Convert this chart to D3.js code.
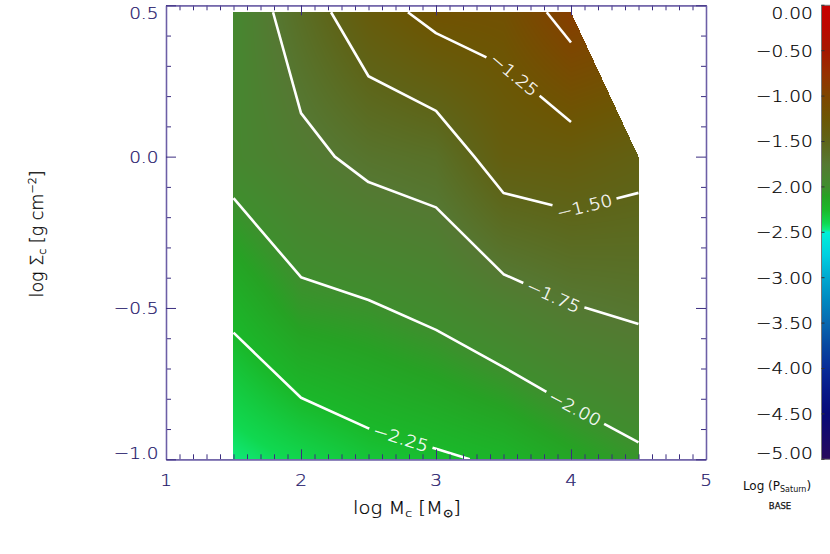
<!DOCTYPE html>
<html><head><meta charset="utf-8">
<script src="https://cdn.jsdelivr.net/npm/d3@7"></script>
<style>
html,body{margin:0;padding:0;background:#fff;}
svg{display:block;}
</style></head><body>
<svg id="chart" width="830" height="554"></svg>
<script>
// ---------------- data ----------------
const massCols  = [1.5, 2.0, 2.5, 3.0, 3.5, 4.0, 4.5];          // log Mc
const sigmaRows = [-1.0, -0.5, 0.0, 0.477];                        // log Sigma_c
const logP_sigmaM100 = [-2.460, -2.387, -2.310, -2.272, -2.228, -2.130, -2.036];
const logP_sigmaM050 = [-2.209, -2.050, -2.017, -1.954, -1.854, -1.760, -1.716];
const logP_sigma000  = [-1.921, -1.804, -1.696, -1.647, -1.388, -1.359, -1.432];
const logP_sigma048  = [-1.927, -1.625, -1.344, -1.183, -1.169, -0.905, null];

const contourLevels = [-2.25, -2.00, -1.75, -1.50, -1.25, -1.00];
const labelLevels   = [-2.25, -2.00, -1.75, -1.50, -1.25];
const labelTexts    = ["\u22122.25", "\u22122.00", "\u22121.75", "\u22121.50", "\u22121.25"];
const labelAtMass   = [2.74, 4.03, 3.87, 4.10, 3.58];

const xTickValues = [1, 2, 3, 4, 5];
const xTickLabels = ["1", "2", "3", "4", "5"];
const yTickValues = [-1.0, -0.5, 0.0, 0.5];
const yTickLabels = ["\u22121.0", "\u22120.5", "0.0", "0.5"];

const cbTickValues = [0, -0.5, -1, -1.5, -2, -2.5, -3, -3.5, -4, -4.5, -5];
const cbTickLabels = ["0.00", "\u22120.50", "\u22121.00", "\u22121.50", "\u22122.00", "\u22122.50",
                      "\u22123.00", "\u22123.50", "\u22124.00", "\u22124.50", "\u22125.00"];
const cbStopValues = [0, -0.25, -0.5, -0.75, -1.0, -1.25, -1.5, -1.75, -2.0, -2.1, -2.25, -2.4, -2.47, -2.5,
                      -2.75, -3.0, -3.25, -3.5, -3.75, -4.0, -4.25, -4.5, -4.75, -5.0];
const cbStopColors = ["#c80000", "#bb0800", "#a51800", "#963000", "#7e4500", "#6c5604", "#5e6418", "#557832",
                      "#3f8e2e", "#26a224", "#1ab82a", "#10d850", "#10ec80", "#00f0d8",
                      "#00d0e0", "#00a8d0", "#0088c0", "#0868b0", "#0848a0", "#082c98", "#081888", "#080a78",
                      "#180a6a", "#280a5c"];

// ---------------- setup ----------------
const grid = [logP_sigmaM100, logP_sigmaM050, logP_sigma000, logP_sigma048];
const svg = d3.select("#chart");
const x = d3.scaleLinear().domain([1, 5]).range([166, 706]);
const y = d3.scaleLinear().domain([-1, 0.5]).range([459.3, 5.3]);
const cy = d3.scaleLinear().domain([-5, 0]).range([459.3, 5.3]);
const color = d3.scaleLinear().domain(cbStopValues).range(cbStopColors)
  .interpolate(d3.interpolateRgb).clamp(true);

const AXIS_COL = "#6c5fa6", TICK_COL = "#3b2d80", LABEL_COL = "#24166a";
const FONT = "'DejaVu Sans', 'Liberation Sans', sans-serif";
const FW = 200;

function field(mx, sy) {
  if (mx < massCols[0] || mx > massCols[massCols.length - 1]) return null;
  if (sy < sigmaRows[0] || sy > sigmaRows[sigmaRows.length - 1]) return null;
  const i = Math.min(massCols.length - 2, Math.max(0, d3.bisectRight(massCols, mx) - 1));
  const j = Math.min(sigmaRows.length - 2, Math.max(0, d3.bisectRight(sigmaRows, sy) - 1));
  const x0 = massCols[i], x1 = massCols[i + 1], y0 = sigmaRows[j], y1 = sigmaRows[j + 1];
  const u = (mx - x0) / (x1 - x0), w = (sy - y0) / (y1 - y0);
  const a = grid[j][i], b = grid[j][i + 1], c = grid[j + 1][i], d = grid[j + 1][i + 1];
  if (a != null && b != null && c != null && d != null)
    return a * (1 - u) * (1 - w) + b * u * (1 - w) + c * (1 - u) * w + d * u * w;
  if (d == null && a != null && b != null && c != null) {
    if (u + w <= 1.0000001) return a + (b - a) * u + (c - a) * w;
    return null;
  }
  return null;
}

// ---------------- heat map (pixel image through scales) ----------------
{
  const px0 = Math.floor(x(massCols[0])), px1 = Math.ceil(x(massCols[massCols.length - 1]));
  const py0 = Math.floor(y(sigmaRows[sigmaRows.length - 1])), py1 = Math.ceil(y(sigmaRows[0]));
  const w = px1 - px0, h = py1 - py0;
  const cv = document.createElement("canvas");
  cv.width = w; cv.height = h;
  const ctx = cv.getContext("2d");
  const img = ctx.createImageData(w, h);
  for (let r = 0; r < h; r++) {
    const sy = y.invert(py0 + r + 0.5);
    for (let q = 0; q < w; q++) {
      const mx = x.invert(px0 + q + 0.5);
      const v = field(mx, sy);
      const k = (r * w + q) * 4;
      if (v == null) { img.data[k + 3] = 0; continue; }
      const c = d3.rgb(color(v));
      img.data[k] = c.r; img.data[k + 1] = c.g; img.data[k + 2] = c.b; img.data[k + 3] = 255;
    }
  }
  ctx.putImageData(img, 0, 0);
  svg.append("image").attr("x", px0).attr("y", py0).attr("width", w).attr("height", h)
    .attr("preserveAspectRatio", "none").attr("href", cv.toDataURL());
}

// ---------------- contours (marching squares on the grid) ----------------
function contourSegments(L) {
  const segs = [];
  for (let j = 0; j < sigmaRows.length - 1; j++) {
    for (let i = 0; i < massCols.length - 1; i++) {
      const a = grid[j][i], b = grid[j][i + 1], c = grid[j + 1][i], d = grid[j + 1][i + 1];
      if (a == null || b == null || c == null || d == null) continue;
      const x0 = massCols[i], x1 = massCols[i + 1], y0 = sigmaRows[j], y1 = sigmaRows[j + 1];
      const edges = [
        [x0, y0, a, x1, y0, b],
        [x1, y0, b, x1, y1, d],
        [x0, y1, c, x1, y1, d],
        [x0, y0, a, x0, y1, c]
      ];
      const pts = [];
      for (const [xa, ya, va, xb, yb, vb] of edges) {
        if ((va - L) * (vb - L) < 0) {
          const t = (L - va) / (vb - va);
          pts.push([xa + t * (xb - xa), ya + t * (yb - ya)]);
        }
      }
      if (pts.length === 2) segs.push(pts);
      else if (pts.length === 4) { segs.push([pts[0], pts[1]]); segs.push([pts[2], pts[3]]); }
    }
  }
  return segs;
}
function chain(segs) {
  const key = p => p[0].toFixed(6) + "," + p[1].toFixed(6);
  const used = segs.map(() => false);
  const lines = [];
  for (let s = 0; s < segs.length; s++) {
    if (used[s]) continue;
    used[s] = true;
    const line = [segs[s][0], segs[s][1]];
    let grown = true;
    while (grown) {
      grown = false;
      for (let k = 0; k < segs.length; k++) {
        if (used[k]) continue;
        const [p, q] = segs[k];
        const f = key(line[0]), l = key(line[line.length - 1]);
        if (key(p) === l) { line.push(q); }
        else if (key(q) === l) { line.push(p); }
        else if (key(q) === f) { line.unshift(p); }
        else if (key(p) === f) { line.unshift(q); }
        else continue;
        used[k] = true; grown = true;
      }
    }
    lines.push(line);
  }
  return lines;
}
function cumLen(pts) {
  const c = [0];
  for (let i = 1; i < pts.length; i++)
    c.push(c[i - 1] + Math.hypot(pts[i][0] - pts[i - 1][0], pts[i][1] - pts[i - 1][1]));
  return c;
}
function pointAt(pts, cum, s) {
  for (let i = 1; i < pts.length; i++) {
    if (s <= cum[i] || i === pts.length - 1) {
      const t = (s - cum[i - 1]) / Math.max(1e-9, cum[i] - cum[i - 1]);
      return [pts[i - 1][0] + t * (pts[i][0] - pts[i - 1][0]), pts[i - 1][1] + t * (pts[i][1] - pts[i - 1][1])];
    }
  }
  return pts[pts.length - 1];
}
function subLine(pts, cum, sa, sb) {
  if (sb <= sa) return [];
  const out = [pointAt(pts, cum, sa)];
  for (let i = 0; i < pts.length; i++) if (cum[i] > sa && cum[i] < sb) out.push(pts[i]);
  out.push(pointAt(pts, cum, sb));
  return out;
}

const lineGen = d3.line();
const gC = svg.append("g").attr("class", "contours");
const GAP = 33;
contourLevels.forEach(L => {
  const lines = chain(contourSegments(L)).map(l => l.map(p => [x(p[0]), y(p[1])]));
  const li = labelLevels.indexOf(L);
  lines.forEach(pts => {
    let parts = [pts], label = null;
    if (li >= 0) {
      const tx = x(labelAtMass[li]);
      for (let k = 0; k < pts.length - 1; k++) {
        const [ax, ay] = pts[k], [bx, by] = pts[k + 1];
        if (tx >= Math.min(ax, bx) && tx <= Math.max(ax, bx) && Math.abs(bx - ax) > 1e-9) {
          const cum = cumLen(pts);
          const t = (tx - ax) / (bx - ax);
          const P = [ax + t * (bx - ax), ay + t * (by - ay)];
          const s0 = cum[k] + Math.hypot(P[0] - ax, P[1] - ay);
          parts = [subLine(pts, cum, 0, s0 - GAP), subLine(pts, cum, s0 + GAP, cum[cum.length - 1])];
          let ang = Math.atan2(by - ay, bx - ax) * 180 / Math.PI;
          if (ang > 90) ang -= 180; if (ang < -90) ang += 180;
          label = { P, ang, text: labelTexts[li] };
          break;
        }
      }
    }
    parts.filter(p => p.length > 1).forEach(p => {
      gC.append("path").attr("d", lineGen(p)).attr("fill", "none")
        .attr("stroke", "#ffffff").attr("stroke-width", 2.6)
        .attr("stroke-linejoin", "round").attr("stroke-linecap", "butt");
    });
    if (label) {
      gC.append("text")
        .attr("transform", `translate(${label.P[0]},${label.P[1]}) rotate(${label.ang}) scale(1.12,1)`)
        .attr("x", 0).attr("y", 0.36 * 16.5)
        .attr("text-anchor", "middle").attr("font-family", FONT).attr("font-weight", FW)
        .attr("font-size", 16.5).attr("fill", "#ffffff")
        .attr("stroke", "#ffffff").attr("stroke-width", 0.3).text(label.text);
    }
  });
});

// ---------------- axes (inward ticks on all four sides) ----------------
const xMinor = d3.range(10, 51).map(d => d / 10).filter(d => !xTickValues.includes(d));
const yMinor = d3.range(-10, 6).map(d => d / 10).filter(d => !yTickValues.some(v => Math.abs(v - d) < 1e-9));
function styleAxis(g) {
  g.selectAll("path.domain").attr("stroke", AXIS_COL).attr("stroke-width", 1.3);
  g.selectAll(".tick line").attr("stroke", TICK_COL).attr("stroke-width", 1);
  g.selectAll(".tick text").remove();
}
const axes = [
  [d3.axisBottom(x), `translate(0,${y(-1)})`, xMinor, xTickValues],
  [d3.axisTop(x), `translate(0,${y(0.5)})`, xMinor, xTickValues],
  [d3.axisLeft(y), `translate(${x(1)},0)`, yMinor, yTickValues],
  [d3.axisRight(y), `translate(${x(5)},0)`, yMinor, yTickValues]
];
axes.forEach(([ax, tr, minor, major]) => {
  svg.append("g").attr("transform", tr)
    .call(ax.tickValues(minor).tickSize(-5).tickSizeOuter(0).tickFormat("")).call(styleAxis);
  svg.append("g").attr("transform", tr)
    .call(ax.tickValues(major).tickSize(-10).tickSizeOuter(0).tickFormat("")).call(styleAxis);
});

function sText(parent, px, py, anchor, size, sx, fill, str, weight) {
  return parent.append("text")
    .attr("transform", `translate(${px},${py}) scale(${sx},1)`)
    .attr("x", 0).attr("y", 0).attr("text-anchor", anchor)
    .attr("font-family", FONT).attr("font-weight", weight || FW)
    .attr("font-size", size).attr("fill", fill)
    .attr("stroke", fill).attr("stroke-width", 0.25).text(str);
}
const gL = svg.append("g").attr("class", "labels");
const TS = 16.5, TSX = 1.12;
xTickValues.forEach((v, i) => sText(gL, x(v), 480 + 0.36 * TS, "middle", TS, TSX, LABEL_COL, xTickLabels[i]));
yTickValues.forEach((v, i) => {
  const c = Math.max(13, Math.min(453, y(v)));
  sText(gL, 158.5, c + 0.36 * TS, "end", TS, TSX, LABEL_COL, yTickLabels[i]);
});

// axis titles
{
  const t = gL.append("text")
    .attr("transform", `translate(407,${508 + 0.36 * 17.5}) scale(1.12,1)`)
    .attr("text-anchor", "middle").attr("font-family", FONT).attr("font-weight", FW)
    .attr("font-size", 17.5).attr("fill", "#000").attr("stroke", "#000").attr("stroke-width", 0.25);
  t.append("tspan").text("log M");
  t.append("tspan").attr("font-size", 11).attr("dy", 3).text("c");
  t.append("tspan").attr("dy", -3).text(" [M");
  t.append("tspan").attr("font-size", 11).attr("dy", 3).text("\u2299");
  t.append("tspan").attr("dy", -3).text("]");
}
{
  const t = gL.append("text")
    .attr("transform", `translate(${37 + 0.36 * 17.5},234) rotate(-90) scale(1.0,1)`)
    .attr("text-anchor", "middle").attr("font-family", FONT).attr("font-weight", FW)
    .attr("font-size", 17.5).attr("fill", "#000").attr("stroke", "#000").attr("stroke-width", 0.25);
  t.append("tspan").text("log \u03a3");
  t.append("tspan").attr("font-size", 11).attr("dy", 3).text("c");
  t.append("tspan").attr("dy", -3).text(" [g cm");
  t.append("tspan").attr("font-size", 11).attr("dy", -7).text("\u22122");
  t.append("tspan").attr("dy", 7).text("]");
}

// ---------------- colour bar ----------------
{
  const defs = svg.append("defs");
  const grad = defs.append("linearGradient").attr("id", "cbgrad")
    .attr("x1", 0).attr("y1", 0).attr("x2", 0).attr("y2", 1);
  cbStopValues.forEach((v, i) => {
    grad.append("stop").attr("offset", (cy(v) - cy(0)) / (cy(-5) - cy(0))).attr("stop-color", cbStopColors[i]);
  });
  svg.append("rect").attr("x", 821.5).attr("y", cy(0)).attr("width", 14).attr("height", cy(-5) - cy(0))
    .attr("fill", "url(#cbgrad)").attr("stroke", "#777").attr("stroke-width", 1);
  cbTickValues.forEach((v, i) => {
    svg.append("line").attr("x1", 821.5).attr("x2", 824.5).attr("y1", cy(v)).attr("y2", cy(v))
      .attr("stroke", "#333").attr("stroke-width", 1);
    const c = Math.max(13.5, Math.min(453, cy(v)));
    sText(gL, 812.7, c + 0.36 * TS, "end", TS, TSX, "#000", cbTickLabels[i]);
  });
  const t = gL.append("text").attr("transform", "translate(777,490) scale(1.0,1)")
    .attr("text-anchor", "middle").attr("font-family", FONT).attr("font-weight", 400)
    .attr("font-size", 12).attr("fill", "#111");
  t.append("tspan").text("Log (P");
  t.append("tspan").attr("font-size", 8).attr("dy", 2).text("Saturn");
  t.append("tspan").attr("dy", -2).text(")");
  sText(gL, 780, 508.5, "middle", 8.5, 1.0, "#111", "BASE", 400);
}
</script>
</body></html>
